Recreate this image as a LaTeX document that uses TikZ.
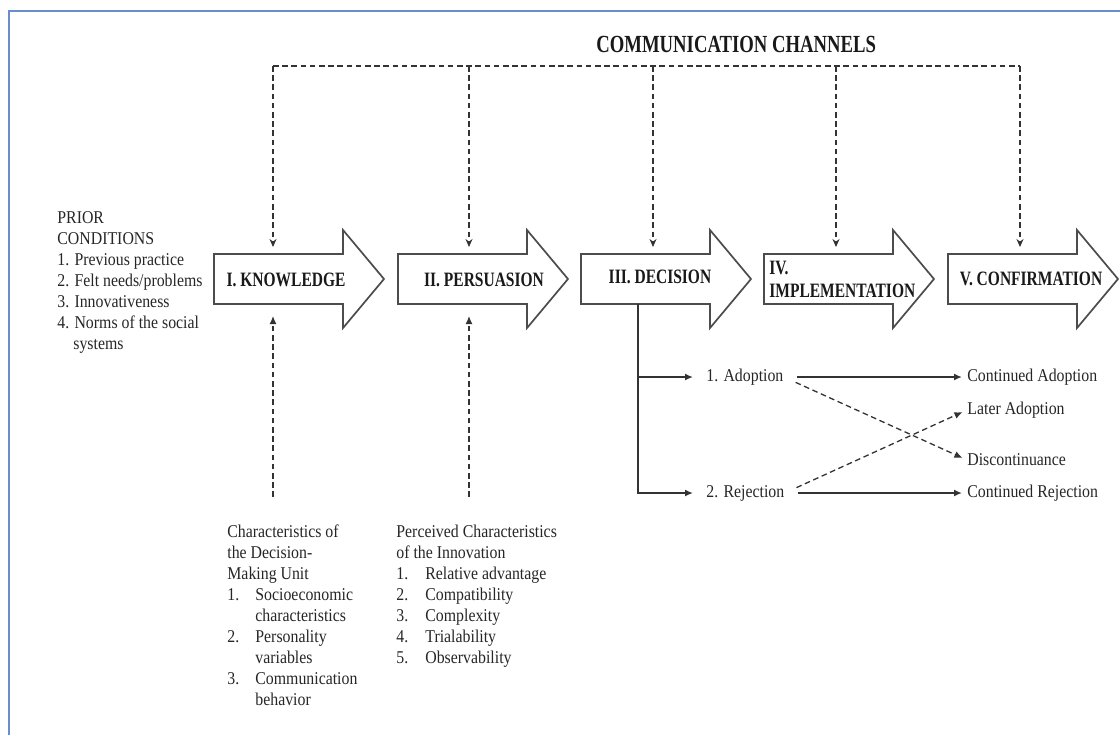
\documentclass[tikz,border=0pt]{standalone}
\usepackage{fontspec}
\setmainfont{Liberation Serif}[FakeStretch=0.88]
\newfontfamily\headfont{Liberation Serif}[FakeStretch=0.76]
\usetikzlibrary{arrows.meta}
\definecolor{frameblue}{RGB}{104,143,204}
\newcommand\listno[2][14pt]{\makebox[#1][l]{#2}}

\begin{document}
\begin{tikzpicture}[>=Stealth, x=0.5pt, y=-0.5pt,
  stage/.style={draw=black!70, line width=0.85pt, fill=white},
  stagelabel/.style={font=\headfont\bfseries\fontsize{10.2}{11.5}\selectfont, inner sep=0pt, text=black!90},
  body/.style={font=\fontsize{9}{10.5}\selectfont, align=left, inner sep=0pt, text=black!85},
  channel/.style={draw=black!80, line width=0.65pt, dash pattern=on 2.8pt off 1.8pt},
  link/.style={draw=black!80, line width=0.8pt, -{Latex[length=4pt,width=3.5pt]}}]
  \useasboundingbox (0,0) rectangle (1120,735);
  \draw[frameblue, line width=1pt] (9,735) -- (9,11) -- (1120,11);

  % the five stages
  \foreach \L/\c [count=\i] in {214/273, 398/469, 581/653, 764/836, 948/1020} {
    \draw[stage] (\L,254) -- ++(129,0) -- ++(0,-24) -- (\L+170,279)
      -- (\L+129,328) -- ++(0,-24) -- (\L,304) -- cycle;
    \coordinate (cc\i) at (\c,66);
    \coordinate (in\i) at (\c,247);
  }
  \node[stagelabel] (knowledge) at (286,280) {I. KNOWLEDGE};
  \node[stagelabel] (persuasion) at (484,280) {II. PERSUASION};
  \node[stagelabel] (decision) at (660,277) {III. DECISION};
  \node[stagelabel, align=left, anchor=west] (implementation) at (769,279) {IV.\\IMPLEMENTATION};
  \node[stagelabel] (confirmation) at (1031,279) {V. CONFIRMATION};

  % communication channels
  \node[font=\headfont\bfseries\fontsize{12.3}{14}\selectfont, inner sep=0pt, anchor=base west, text=black!90]
    (channels) at (596,52) {COMMUNICATION CHANNELS};
  \draw[channel] (cc1) -- (cc5);
  \foreach \i in {1,...,5}
    \draw[channel, -{Stealth[length=4pt,width=3.5pt]}] (cc\i) -- (in\i);

  % prior conditions and the two groups of characteristics
  \node[body, anchor=base west] (prior) at (57,349)
    {PRIOR\\CONDITIONS\\1. Previous practice\\2. Felt needs/problems\\3. Innovativeness\\
     4. Norms of the social\\\hspace*{8pt}systems};
  \node[body, anchor=base west] (unit) at (227,705)
    {Characteristics of\\the Decision-\\Making Unit\\
     \listno{1.}Socioeconomic\\\hspace*{14pt}characteristics\\
     \listno{2.}Personality\\\hspace*{14pt}variables\\
     \listno{3.}Communication\\\hspace*{14pt}behavior};
  \node[body, anchor=base west] (innovation) at (396,663)
    {Perceived Characteristics\\of the Innovation\\
     \listno[14.5pt]{1.}Relative advantage\\\listno[14.5pt]{2.}Compatibility\\
     \listno[14.5pt]{3.}Complexity\\\listno[14.5pt]{4.}Trialability\\
     \listno[14.5pt]{5.}Observability};
  \coordinate (up1) at (273,497);
  \coordinate (up2) at (469,497);
  \coordinate (out1) at (273,316);
  \coordinate (out2) at (469,316);
  \draw[channel, -{Latex[length=4pt,width=3.5pt]}] (up1) -- (out1);
  \draw[channel, -{Latex[length=4pt,width=3.5pt]}] (up2) -- (out2);

  % decision outcomes
  \coordinate (fork) at (638,304);
  \node[body, anchor=west] (adopt) at (706,377) {1. Adoption};
  \node[body, anchor=west] (reject) at (706,493) {2. Rejection};
  \node[body, anchor=west] (contadopt) at (967,377) {Continued Adoption};
  \node[body, anchor=west] (lateradopt) at (967,410) {Later Adoption};
  \node[body, anchor=west] (discont) at (967,460) {Discontinuance};
  \node[body, anchor=west] (contreject) at (967,493) {Continued Rejection};
  \draw[link, shorten >=6.5pt] (fork) |- (reject.west);
  \draw[link, shorten >=6.5pt] (fork |- adopt.west) -- (adopt.west);
  \draw[link, shorten <=6.5pt, shorten >=2.5pt] (adopt.east) -- (contadopt.west);
  \draw[link, shorten <=6.5pt, shorten >=2.5pt] (reject.east) -- (contreject.west);
  \draw[channel, -{Latex[length=4pt,width=3.5pt]}, shorten <=6.5pt, shorten >=2.5pt]
    (adopt.east) -- (discont.west);
  \draw[channel, -{Latex[length=4pt,width=3.5pt]}, shorten <=6.5pt, shorten >=2.5pt]
    (reject.east) -- (lateradopt.west);
\end{tikzpicture}
\end{document}
